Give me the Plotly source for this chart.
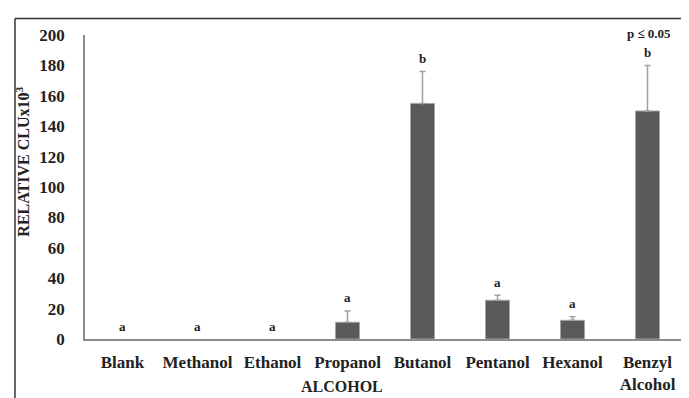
import plotly.graph_objects as go

categories = ["Blank", "Methanol", "Ethanol", "Propanol", "Butanol", "Pentanol", "Hexanol", "Benzyl<br>Alcohol"]
values = [0, 0, 0, 11, 155, 25.5, 12.3, 150]
errors = [0, 0, 0, 7.5, 21, 3.3, 2.3, 30]
letters = ["a", "a", "a", "a", "b", "a", "a", "b"]
y_ticks = [0, 20, 40, 60, 80, 100, 120, 140, 160, 180, 200]

FONT = "Liberation Serif"
TXT = "#222222"

fig = go.Figure()
fig.add_trace(go.Bar(
    x=categories, y=[v if v > 0 else None for v in values],
    marker=dict(color="#595959", line=dict(color="#a6a6a6", width=1)),
    error_y=dict(type="data", array=errors, arrayminus=[0] * len(errors), visible=True,
                 color="#a0a0a0", thickness=1.5, width=3),
    showlegend=False,
))

for cat, v, e, lab in zip(categories, values, errors, letters):
    fig.add_annotation(
        x=cat, y=v + e, text=lab, showarrow=False, yanchor="middle", xanchor="center",
        yshift=13, font=dict(family=FONT, size=13, color=TXT, weight="bold"),
    )

fig.update_layout(
    width=689, height=398,
    margin=dict(l=77, r=12, t=27, b=56),
    paper_bgcolor="white", plot_bgcolor="white",
    bargap=0.68,
    font=dict(family=FONT, color=TXT),
    xaxis=dict(
        range=[-0.5, 7.5], showgrid=False, showline=True, linecolor="#8c8c8c", linewidth=1.5,
        ticks="", tickfont=dict(family=FONT, size=17, color=TXT, weight="bold"),
        ticklabelstandoff=7,
    ),
    yaxis=dict(
        range=[0, 200], tickvals=y_ticks, showgrid=False, showline=True, linecolor="#8c8c8c",
        linewidth=1.5, ticks="", zeroline=False,
        tickfont=dict(family=FONT, size=17, color=TXT, weight="bold"),
        ticklabelstandoff=15,
    ),
)

fig.add_annotation(
    text="RELATIVE CLUx10<sup>3</sup>", textangle=-90, xref="paper", yref="paper",
    x=-0.103, y=0.584, showarrow=False, xanchor="center", yanchor="middle",
    font=dict(family=FONT, size=16, color=TXT, weight="bold"),
)
fig.add_annotation(
    text="ALCOHOL", xref="paper", yref="paper", x=0.428, y=-0.155,
    showarrow=False, xanchor="center", yanchor="middle",
    font=dict(family=FONT, size=16, color=TXT, weight="bold"),
)
fig.add_annotation(
    text="p ≤ 0.05", xref="paper", yref="paper", x=0.94, y=1.006,
    showarrow=False, xanchor="center", yanchor="middle",
    font=dict(family=FONT, size=13, color=TXT, weight="bold"),
)

# outer frame (top and left edges)
fig.add_shape(type="line", xref="paper", yref="paper", x0=-0.1167, x1=1.03, y0=1.054, y1=1.054,
              line=dict(color="#333333", width=1.5))
fig.add_shape(type="line", xref="paper", yref="paper", x0=-0.1167, x1=-0.1167, y0=1.054, y1=-0.2,
              line=dict(color="#333333", width=1.5))

fig.write_html("out.html")
